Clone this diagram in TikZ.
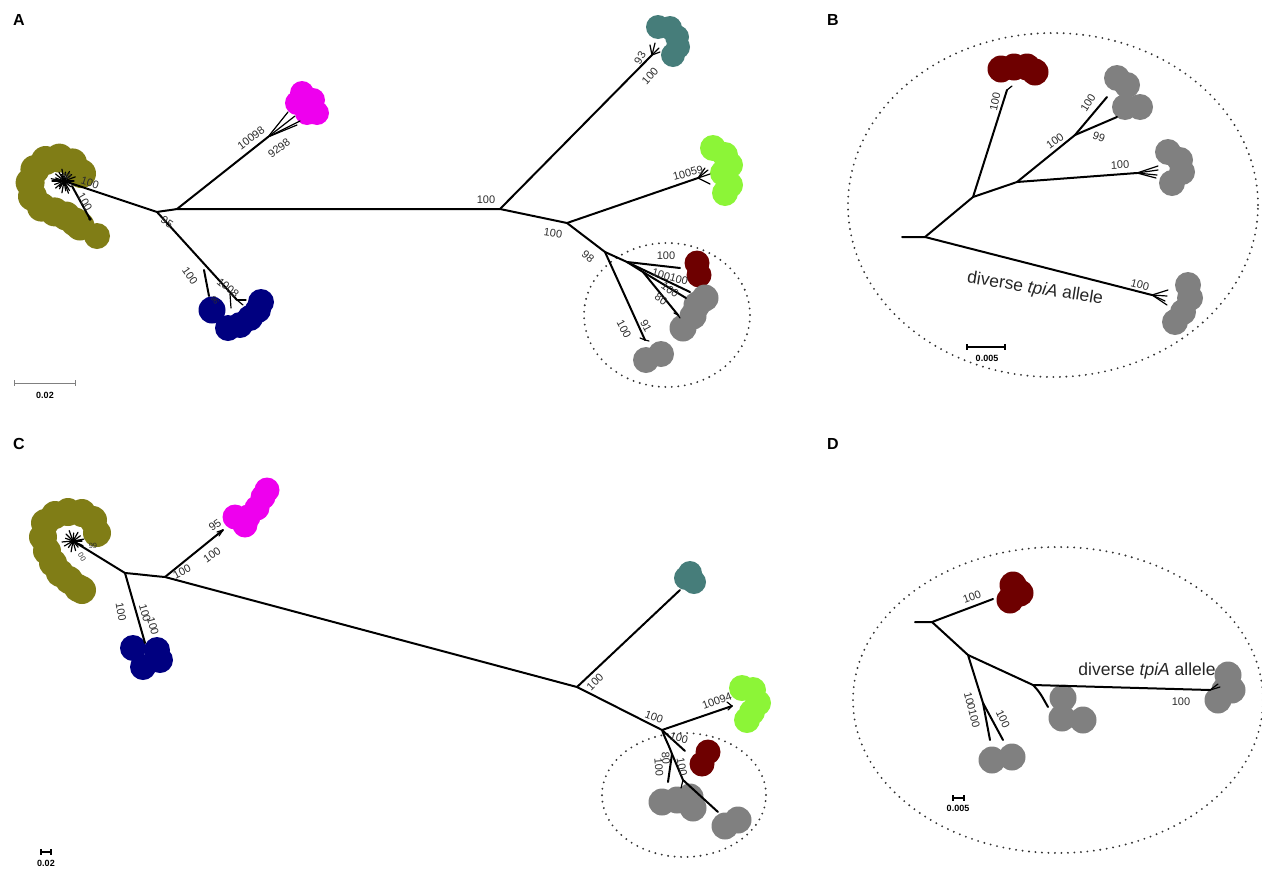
\documentclass[tikz,border=0pt]{standalone}
\usepackage{fontspec}
\setmainfont{Liberation Sans}
\definecolor{olv}{RGB}{128,125,22}
\definecolor{mag}{RGB}{238,0,238}
\definecolor{nav}{RGB}{0,0,128}
\definecolor{tea}{RGB}{70,125,122}
\definecolor{lim}{RGB}{140,245,55}
\definecolor{drd}{RGB}{110,0,0}
\definecolor{gry}{RGB}{128,128,128}
\definecolor{txt}{RGB}{45,45,45}
\begin{document}
\begin{tikzpicture}[x=1pt,y=-1pt,
  br/.style={line width=2pt, line cap=round, line join=round},
  thin/.style={line width=1.2pt, line cap=round},
  lab/.style={font=\fontsize{11}{12}\selectfont, text=txt, inner sep=0pt},
  tiny/.style={font=\fontsize{7.5}{8}\selectfont, text=txt, inner sep=0pt},
  big/.style={font=\fontsize{17.5}{19}\selectfont, text=black!85, inner sep=0pt},
  panel/.style={font=\fontsize{16}{18}\selectfont\bfseries, inner sep=0pt},
  sbl/.style={font=\fontsize{9}{10}\selectfont\bfseries, inner sep=0pt},
  dots/.style={line width=2.1pt, line cap=round, dash pattern=on 0pt off 6.5pt, black!80}]
\useasboundingbox (0,0) rectangle (1262,876);

% ================= PANEL A =================
\node[panel] (pA) at (19,20) {A};
\foreach \x/\y in {81.5/173.6,72.5/162.9,59.4/158.1,45.6/160.5,34.9/169.5,30.1/182.6,32.5/196.4,41.5/207.1,54.6/211.9,66/216,75/222,80/226}
  \fill[olv] (\x,\y) circle (14.5pt);
\fill[olv] (97,236) circle (13pt);
\foreach \x/\y in {302/93,313/100,297/103,317/113,307/113}
  \fill[mag] (\x,\y) circle (12pt);
\fill[nav] (212,310) circle (13.5pt);
\foreach \x/\y in {228/328,240/325,250/318,258/310,261/302}
  \fill[nav] (\x,\y) circle (13pt);
\foreach \x/\y in {658/27,670/28,677/37,678/47,673/55}
  \fill[tea] (\x,\y) circle (12pt);
\foreach \x/\y in {713/148,725/155,730/165,723/173,730/185,725/193}
  \fill[lim] (\x,\y) circle (13pt);
\foreach \x/\y in {697/263,699/275}
  \fill[drd] (\x,\y) circle (12.5pt);
\foreach \x/\y in {705/298,697/305,693/316,683/328}
  \fill[gry] (\x,\y) circle (13.5pt);
\foreach \x/\y in {646/360,661/354}
  \fill[gry] (\x,\y) circle (13pt);
\draw[dots] (667,315) ellipse [x radius=83pt, y radius=72pt];

\coordinate (hubA) at (64,181);
\coordinate (N1) at (157,212);
\coordinate (N2) at (177,209);
\coordinate (N3) at (500,209);
\coordinate (N4) at (567,223);
\coordinate (N5) at (605,252);
\coordinate (S1) at (627,262);
\coordinate (S2) at (643,272);
\coordinate (oS) at (72,186);
\coordinate (oT) at (90,219);
\coordinate (mT) at (268,137);
\coordinate (nB) at (204,270);
\coordinate (nT) at (237,300);
\coordinate (tT) at (652,55);
\coordinate (lT) at (698,178);
\draw[br] (N1) -- (hubA);
\draw[br] (oS) -- (oT);
\fill (oT) circle (1.8pt);
\foreach \a/\r in {0/10,20/12,40/9,60/11,80/10,100/12,120/9,140/11,160/10,180/12,200/9,220/11,240/10,260/12,280/9,300/11,320/10,340/12,10/6,130/7,250/7,70/13,190/13}
  \draw[thin] (hubA) -- ++(\a:\r);
\draw[br] (N1) to[out=10,in=190] (N2) -- (N3);
\draw[br] (N2) -- (mT);
\foreach \ex/\ey in {288/112,295/116,300/121,297/125}
  \draw[thin] (mT) -- (\ex,\ey);
\draw[br] (N1) -- (nT);
\draw[br] (nB) -- (209,296);
\draw[thin] (nT) -- (246,300);
\draw[thin] (nT) -- (243,305);
\draw[thin] (230,294) -- (231,308);
\draw[br] (N3) -- (tT);
\foreach \ex/\ey in {650/45,655/43,659/48,660/52}
  \draw[thin] (tT) -- (\ex,\ey);
\draw[br] (N3) -- (N4) -- (lT);
\foreach \ex/\ey in {705/168,708/170,710/174}
  \draw[thin] (lT) -- (\ex,\ey);
\draw[thin] (lT) -- (710,184);
\draw[br] (N4) -- (N5) -- (S1) -- (680,268);
\draw[br] (S1) -- (690,292);
\draw[br] (S1) -- (S2) -- (686,298);
\draw[br] (S2) -- (678,315);
\draw[thin] (678,315) -- (674,313);
\draw[thin] (678,315) -- (680,318);
\draw[br] (N5) -- (645,340);
\draw[thin] (645,340) -- (640,338);
\draw[thin] (645,340) -- (649,341);
\node[lab, rotate=-18] (a1) at (90,183) {100};
\node[lab, rotate=-60] (a2) at (85,202) {100};
\node[tiny] (a3) at (67,176) {99};
\node[lab, rotate=-35] (a4) at (167,222) {95};
\node[lab, rotate=37] (a5) at (251,138) {10098};
\node[lab, rotate=37] (a6) at (279,148) {9298};
\node[lab, rotate=-55] (a7) at (190,276) {100};
\node[lab, rotate=-40] (a8) at (228,288) {1008};
\node[tiny, rotate=-55] (a9) at (215,300) {96};
\node[lab] (a10) at (486,200) {100};
\node[lab, rotate=60] (a11) at (640,58) {93};
\node[lab, rotate=48] (a12) at (650,76) {100};
\node[lab, rotate=-8] (a13) at (553,233) {100};
\node[lab, rotate=15] (a14) at (688,173) {10059};
\node[lab, rotate=-40] (a15) at (588,257) {98};
\node[lab] (a16) at (666,256) {100};
\node[lab, rotate=-15] (a17) at (670,277) {100100};
\node[lab, rotate=-35] (a18) at (670,290) {100};
\node[lab, rotate=-35] (a19) at (661,299) {80};
\node[lab, rotate=-62] (a20) at (624,329) {100};
\node[lab, rotate=-62] (a21) at (646,326) {91};
\draw[gry, line width=1pt] (14,383) -- (75,383);
\draw[gry, line width=1pt] (14,380) -- (14,386) (75,380) -- (75,386);
\node[sbl] (sA) at (45,395) {0.02};

% ================= PANEL B =================
\node[panel] (pB) at (833,20) {B};
\draw[dots] (1053,205) ellipse [x radius=205pt, y radius=172pt];
\foreach \x/\y in {1001/69,1014/67,1027/67,1035/72}
  \fill[drd] (\x,\y) circle (13.5pt);
\foreach \x/\y in {1117/78,1127/85,1125/107,1140/107,1168/152,1180/160,1182/172,1172/183,1188/285,1190/298,1183/312,1175/322}
  \fill[gry] (\x,\y) circle (13pt);
\coordinate (bR0) at (902,237);
\coordinate (bR) at (925,237);
\coordinate (bA1) at (973,197);
\coordinate (bA2) at (1017,182);
\coordinate (bA3) at (1075,135);
\coordinate (bRed) at (1007,90);
\coordinate (bG1) at (1107,97);
\coordinate (bG2) at (1117,117);
\coordinate (bG3) at (1137,173);
\coordinate (bG4) at (1152,295);
\draw[br] (bR0) -- (bR) -- (bA1) -- (bRed);
\draw[thin] (bRed) -- (1012,86);
\draw[br] (bA1) -- (bA2) -- (bA3) -- (bG1);
\draw[br] (bA3) -- (bG2);
\draw[br] (bA2) -- (bG3);
\foreach \ex/\ey in {1158/166,1158/170,1157/175,1156/178}
  \draw[thin] (bG3) -- (\ex,\ey);
\draw[br] (bR) -- (bG4);
\foreach \ex/\ey in {1168/290,1167/296,1165/301,1167/305}
  \draw[thin] (bG4) -- (\ex,\ey);
\node[lab, rotate=78] (b1) at (995,102) {100};
\node[lab, rotate=35] (b2) at (1055,141) {100};
\node[lab, rotate=58] (b3) at (1088,103) {100};
\node[lab, rotate=-20] (b4) at (1099,137) {99};
\node[lab, rotate=3] (b5) at (1120,165) {100};
\node[lab, rotate=-14] (b6) at (1140,285) {100};
\node[big, rotate=-9] (b7) at (1035,289) {diverse \textit{tpiA} allele};
\draw[black, line width=1.2pt] (967,347) -- (1005,347);
\draw[black, line width=1.2pt] (967,344) -- (967,350) (1005,344) -- (1005,350);
\node[sbl] (sB) at (987,358) {0.005};

% ================= PANEL C =================
\node[panel] (pC) at (19,444) {C};
\foreach \x/\y in {97/533,93/520,82/513,68/512,55/515,45/523,43/537,47/551,53/563,60/573,69/580,78/588,82/590}
  \fill[olv] (\x,\y) circle (14pt);
\foreach \x/\y in {133/648,157/650,143/667,160/660}
  \fill[nav] (\x,\y) circle (13pt);
\foreach \x/\y in {235/517,248/517,245/525,257/508,263/497,267/490}
  \fill[mag] (\x,\y) circle (12.5pt);
\foreach \x/\y in {686/578,694/582,690/573}
  \fill[tea] (\x,\y) circle (12pt);
\foreach \x/\y in {742/688,753/690,758/703,752/712,747/720}
  \fill[lim] (\x,\y) circle (13pt);
\foreach \x/\y in {708/752,702/764}
  \fill[drd] (\x,\y) circle (12.5pt);
\foreach \x/\y in {662/802,677/800,690/797,693/808,725/826,738/820}
  \fill[gry] (\x,\y) circle (13.5pt);
\draw[dots] (684,795) ellipse [x radius=82pt, y radius=62pt];
\coordinate (cHub) at (73,541);
\coordinate (cN1) at (125,573);
\coordinate (cN2) at (165,577);
\coordinate (cN3) at (577,687);
\coordinate (cN4) at (662,730);
\coordinate (cS1) at (672,754);
\coordinate (cS2) at (683,780);
\coordinate (cNav) at (145,643);
\coordinate (cMag) at (223,530);
\coordinate (cTea) at (680,590);
\coordinate (cLim) at (732,706);
\draw[br] (cHub) -- (cN1) to[out=-5,in=175] (cN2) -- (cN3);
\foreach \a/\r in {0/9,25/11,50/8,75/10,100/11,125/8,150/10,175/11,200/8,225/10,250/11,275/8,300/10,325/9,350/11}
  \draw[thin] (cHub) -- ++(\a:\r);
\draw[br] (cN1) -- (cNav);
\draw[br] (cN2) -- (cMag);
\draw[thin] (cMag) -- (217,532);
\draw[thin] (cMag) -- (219,536);
\draw[br] (cN3) -- (cTea);
\draw[br] (cN3) -- (cN4) -- (cLim);
\draw[thin] (cLim) -- (727,702);
\draw[thin] (cLim) -- (728,710);
\draw[br] (cN4) -- (685,751);
\draw[br] (cN4) to[out=-70,in=110] (cS1);
\draw[br] (cS1) -- (668,782);
\draw[br] (cS1) -- (cS2) -- (718,812);
\draw[thin] (cS2) -- (681,788);
\node[tiny] (c0) at (93,546) {99};
\node[tiny, rotate=-60] (c00) at (82,557) {00};
\node[lab, rotate=-80] (c1) at (121,612) {100};
\node[lab, rotate=-75] (c2) at (145,613) {100};
\node[lab, rotate=-75] (c3) at (153,626) {100};
\node[lab, rotate=35] (c4) at (215,525) {95};
\node[lab, rotate=35] (c5) at (212,555) {100};
\node[lab, rotate=28] (c6) at (182,572) {100};
\node[lab, rotate=45] (c7) at (595,682) {100};
\node[lab, rotate=-20] (c8) at (654,717) {100};
\node[lab, rotate=20] (c9) at (717,701) {10094};
\node[lab, rotate=-15] (c10) at (679,738) {100};
\node[lab, rotate=-85] (c11) at (659,767) {100};
\node[lab, rotate=-85] (c12) at (666,758) {80};
\node[lab, rotate=-80] (c13) at (682,767) {100};
\draw[black, line width=1.2pt] (41,852) -- (51,852);
\draw[black, line width=1.2pt] (41,849) -- (41,855) (51,849) -- (51,855);
\node[sbl] (sC) at (46,863) {0.02};

% ================= PANEL D =================
\node[panel] (pD) at (833,444) {D};
\draw[dots] (1058,700) ellipse [x radius=205pt, y radius=153pt];
\foreach \x/\y in {1013/585,1010/600,1020/593}
  \fill[drd] (\x,\y) circle (13.5pt);
\foreach \x/\y in {992/760,1012/757,1063/698,1062/718,1083/720,1228/675,1225/690,1218/700,1232/690}
  \fill[gry] (\x,\y) circle (13.5pt);
\coordinate (dR0) at (915,622);
\coordinate (dR) at (932,622);
\coordinate (dA1) at (968,655);
\coordinate (dB1) at (983,703);
\coordinate (dA2) at (1033,685);
\coordinate (dRed) at (993,599);
\coordinate (dL) at (1210,690);
\draw[br] (dR0) -- (dR) -- (dRed);
\draw[br] (dR) -- (dA1) -- (dA2) -- (dL);
\draw[br] (dA1) -- (dB1) -- (990,740);
\draw[br] (dB1) -- (1003,740);
\draw[br] (dA2) to[out=-45,in=120] (1048,707);
\draw[thin] (dL) -- (1218,684);
\draw[thin] (dL) -- (1220,687);
\node[lab, rotate=20] (d1) at (972,597) {100};
\node[lab, rotate=-76] (d2) at (972,710) {100100};
\node[lab, rotate=-65] (d3) at (1003,719) {100};
\node[lab] (d4) at (1181,702) {100};
\node[big] (d5) at (1147,671) {diverse \textit{tpiA} allele};
\draw[black, line width=1.2pt] (953,798) -- (964,798);
\draw[black, line width=1.2pt] (953,795) -- (953,801) (964,795) -- (964,801);
\node[sbl] (sD) at (958,808) {0.005};
\end{tikzpicture}
\end{document}
